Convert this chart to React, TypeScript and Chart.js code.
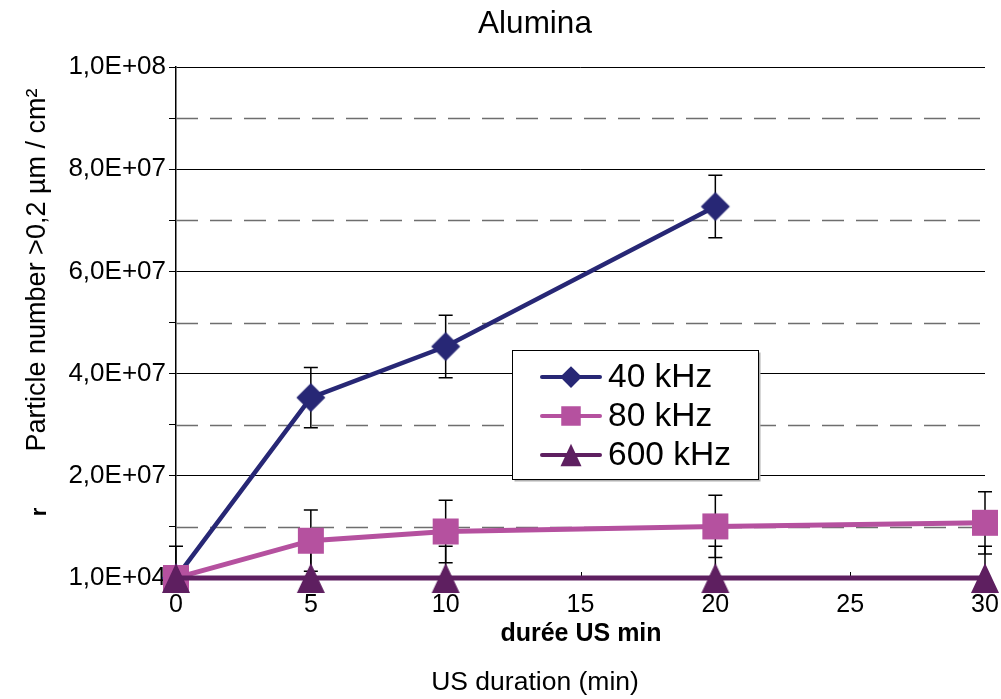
import React, { useEffect, useRef } from 'react';
import { Chart, registerables } from 'chart.js';

Chart.register(...registerables);

// ---- Data ----
const xValues = [0, 5, 10, 20, 30];
const series40 = [1e4, 3.53e7, 4.53e7, 7.27e7, null];
const err40 = [null, 5.9e6, 6.1e6, 6.1e6, null];
const series80 = [1e4, 7.3e6, 9.1e6, 1.01e7, 1.08e7];
const err80 = [null, 6.0e6, 6.1e6, 6.1e6, 6.1e6];
const series600 = [1e4, 1e4, 1e4, 1e4, 1e4];
const err600 = [6.2e6, 6.2e6, 6.2e6, 6.2e6, 6.2e6];
const seriesNames = ['40 kHz', '80 kHz', '600 kHz'];
const yTickValues = [0, 2e7, 4e7, 6e7, 8e7, 1e8];
const yTickLabels = ['1,0E+04', '2,0E+07', '4,0E+07', '6,0E+07', '8,0E+07', '1,0E+08'];
const yDashedValues = [1e7, 3e7, 5e7, 7e7, 9e7];
const xTickValues = [0, 5, 10, 15, 20, 25, 30];

const titleText = 'Alumina';
const yTitleText = 'Particle number >0,2 µm / cm²';
const xTitleText = 'US duration (min)';
const xSubTitleText = 'durée US min';
const strayText = 'r';

const COLORS = ['#272775', '#b5519f', '#5e1f60'];
const FONT = 'Arial, "Liberation Sans", sans-serif';

function makeMarker(kind: string, color: string, scale: number): HTMLCanvasElement {
  const c = document.createElement('canvas');
  const s = Math.ceil(34 * scale);
  c.width = s;
  c.height = s;
  const g = c.getContext('2d')!;
  g.fillStyle = color;
  const cx = s / 2;
  const cy = s / 2;
  g.beginPath();
  if (kind === 'diamond') {
    const r = 14.5 * scale;
    g.moveTo(cx, cy - r);
    g.lineTo(cx + r, cy);
    g.lineTo(cx, cy + r);
    g.lineTo(cx - r, cy);
  } else if (kind === 'square') {
    const h = 13 * scale;
    g.rect(cx - h, cy - h, 2 * h, 2 * h);
  } else {
    const hw = 14 * scale;
    const hh = 15 * scale;
    g.moveTo(cx, cy - hh);
    g.lineTo(cx + hw, cy + hh);
    g.lineTo(cx - hw, cy + hh);
  }
  g.closePath();
  g.fill();
  return c;
}

const decorPlugin = {
  id: 'decor',
  beforeDatasetsDraw(chart: any) {
    const { ctx, chartArea } = chart;
    const ys = chart.scales.y;
    const xs = chart.scales.x;
    // dashed grid lines
    ctx.save();
    ctx.strokeStyle = '#6e6e6e';
    ctx.lineWidth = 1.3;
    ctx.setLineDash([22, 12]);
    for (const v of yDashedValues) {
      const py = Math.round(ys.getPixelForValue(v)) + 0.5;
      ctx.beginPath();
      ctx.moveTo(chartArea.left, py);
      ctx.lineTo(chartArea.right, py);
      ctx.stroke();
    }
    ctx.restore();
    // x axis inner tick marks
    ctx.save();
    ctx.strokeStyle = '#000';
    ctx.lineWidth = 1;
    for (const v of xTickValues) {
      const px = Math.round(xs.getPixelForValue(v)) + 0.5;
      ctx.beginPath();
      ctx.moveTo(px, chartArea.bottom);
      ctx.lineTo(px, chartArea.bottom - 6);
      ctx.stroke();
    }
    ctx.restore();
    // error bars
    ctx.save();
    ctx.beginPath();
    ctx.rect(chartArea.left - 20, chartArea.top - 20, chartArea.right - chartArea.left + 40, chartArea.bottom - chartArea.top + 20);
    ctx.clip();
    ctx.strokeStyle = '#000';
    ctx.lineWidth = 1.5;
    chart.data.datasets.forEach((ds: any) => {
      const errs = ds.errorBars as (number | null)[];
      ds.data.forEach((pt: any, i: number) => {
        const e = errs[i];
        if (pt.y == null || e == null) return;
        const px = xs.getPixelForValue(pt.x);
        const top = ys.getPixelForValue(pt.y + e);
        const bot = ys.getPixelForValue(pt.y - e);
        ctx.beginPath();
        ctx.moveTo(px, top);
        ctx.lineTo(px, bot);
        ctx.moveTo(px - 7, top);
        ctx.lineTo(px + 7, top);
        ctx.moveTo(px - 7, bot);
        ctx.lineTo(px + 7, bot);
        ctx.stroke();
      });
    });
    ctx.restore();
  },
  afterDraw(chart: any) {
    const { ctx } = chart;
    ctx.save();
    ctx.fillStyle = '#000';
    ctx.textAlign = 'center';
    ctx.textBaseline = 'middle';
    ctx.font = `31.5px ${FONT}`;
    ctx.fillText(titleText, 535, 24);
    ctx.font = `bold 25px ${FONT}`;
    ctx.fillText(xSubTitleText, 581, 634);
    ctx.font = `26.5px ${FONT}`;
    ctx.fillText(xTitleText, 535, 683);
    ctx.save();
    ctx.translate(38, 270);
    ctx.rotate(-Math.PI / 2);
    ctx.font = `27px ${FONT}`;
    ctx.fillText(yTitleText, 0, 0);
    ctx.restore();
    ctx.save();
    ctx.translate(40, 512);
    ctx.rotate(-Math.PI / 2);
    ctx.font = `bold 22px ${FONT}`;
    ctx.fillText(strayText, 0, 0);
    ctx.restore();

    // legend
    const bx = 512.5, by = 350.5, bw = 246, bh = 129;
    ctx.fillStyle = '#b0b0b0';
    ctx.fillRect(bx + 2, by + 2, bw, bh);
    ctx.fillStyle = '#fff';
    ctx.fillRect(bx, by, bw, bh);
    ctx.strokeStyle = '#000';
    ctx.lineWidth = 1;
    ctx.strokeRect(bx, by, bw, bh);
    const rows = [377, 416, 455];
    chart.data.datasets.forEach((ds: any, i: number) => {
      const y = rows[i];
      ctx.strokeStyle = ds.borderColor;
      ctx.lineWidth = 4;
      ctx.lineCap = 'round';
      ctx.beginPath();
      ctx.moveTo(542, y);
      ctx.lineTo(600, y);
      ctx.stroke();
      const m = ds.legendMarker as HTMLCanvasElement;
      ctx.drawImage(m, 571 - m.width / 2, y - m.height / 2);
      ctx.fillStyle = '#000';
      ctx.textAlign = 'left';
      ctx.textBaseline = 'middle';
      ctx.font = `33.5px ${FONT}`;
      ctx.fillText(seriesNames[i], 608, y + 1);
    });
    ctx.restore();
  },
};

export default function App() {
  const ref = useRef<HTMLCanvasElement>(null);
  useEffect(() => {
    const canvas = ref.current!;
    const kinds = ['diamond', 'square', 'triangle'];
    const values = [series40, series80, series600];
    const errs = [err40, err80, err600];
    const datasets = values.map((vals, i) => ({
      label: seriesNames[i],
      data: xValues.map((x, j) => ({ x, y: vals[j] })),
      borderColor: COLORS[i],
      backgroundColor: COLORS[i],
      borderWidth: i === 0 ? 4.5 : 5,
      pointStyle: makeMarker(kinds[i], COLORS[i], 1),
      legendMarker: makeMarker(kinds[i], COLORS[i], 0.75),
      pointRadius: 14,
      pointHoverRadius: 14,
      errorBars: errs[i],
      spanGaps: false,
      clip: false,
      order: 3 - i,
      tension: 0,
    }));
    const chart = new Chart(canvas, {
      type: 'line',
      data: { datasets: datasets as any },
      options: {
        responsive: false,
        animation: false,
        events: [],
        layout: { autoPadding: false, padding: { top: 67, right: 16, left: 0, bottom: 0 } },
        plugins: { legend: { display: false }, title: { display: false }, tooltip: { enabled: false } },
        scales: {
          x: {
            type: 'linear',
            min: 0,
            max: 30,
            afterBuildTicks: (s: any) => {
              s.ticks = xTickValues.map((v) => ({ value: v }));
            },
            afterFit: (s: any) => {
              s.height = 121;
              s.paddingLeft = 0;
              s.paddingRight = 0;
            },
            grid: { display: false, drawTicks: false },
            border: { display: true, color: '#000', width: 1 },
            ticks: {
              color: '#000',
              font: { family: FONT, size: 25 },
              padding: 12,
              maxRotation: 0,
              autoSkip: false,
            },
          },
          y: {
            type: 'linear',
            min: 0,
            max: 1e8,
            afterFit: (s: any) => {
              s.width = 176;
              s.paddingTop = 0;
              s.paddingBottom = 0;
            },
            ticks: {
              stepSize: 1e7,
              color: '#000',
              font: { family: FONT, size: 26 },
              padding: 3,
              autoSkip: false,
              callback: (v: any) => {
                const i = yTickValues.findIndex((t) => Math.abs(t - Number(v)) < 1);
                return i >= 0 ? yTickLabels[i] : '';
              },
            },
            grid: {
              color: (c: any) => {
                const v = c.tick ? c.tick.value : -1;
                const major = yTickValues.some((t) => t !== 0 && Math.abs(t - v) < 1);
                return major ? '#000' : 'rgba(0,0,0,0)';
              },
              tickColor: '#000',
              tickLength: 7,
              lineWidth: 1,
            },
            border: { display: true, color: '#000', width: 1.5 },
          },
        },
      },
      plugins: [decorPlugin],
    });
    return () => chart.destroy();
  }, []);
  return (
    <div style={{ position: 'fixed', left: 0, top: 0, width: 1001, height: 699, background: '#fff' }}>
      <canvas ref={ref} width={1001} height={699} />
    </div>
  );
}
